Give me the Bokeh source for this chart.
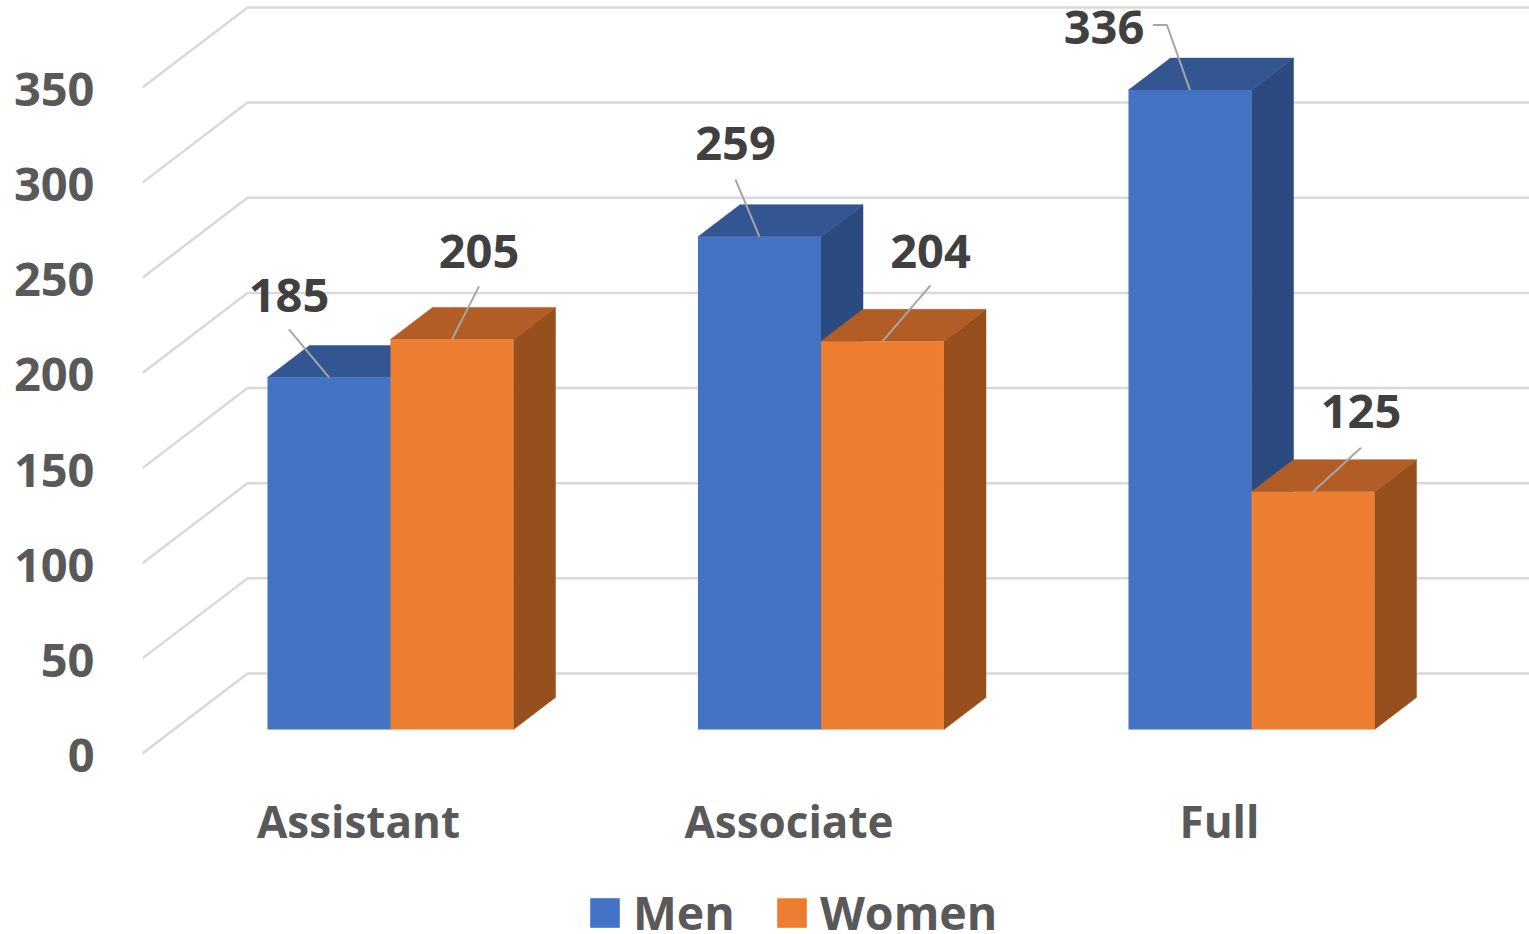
from bokeh.plotting import figure
from bokeh.models import (Range1d, LinearAxis, FixedTicker, Legend, LegendItem,
                          ColumnDataSource)
from bokeh.core.properties import value
from bokeh.embed import file_html
from bokeh.resources import INLINE

categories = ["Assistant", "Associate", "Full"]
men = [185, 259, 336]
women = [205, 204, 125]
y_ticks = [0, 50, 100, 150, 200, 250, 300, 350]

FONT = "Open Sans"
X_UNIT = 430.5      # px per category
Y_UNIT = 1.903      # px per value unit
BAR_W = 123 / X_UNIT
BAR_SHIFT = 32 / X_UNIT
DEPTH_X = 42 / X_UNIT
DEPTH_Y = 32 / Y_UNIT
WALL_X = 105 / X_UNIT
WALL_Y = 80 / Y_UNIT
FLOOR_X = -0.5017
RIGHT_X = 2.7201
Y_TOP = 395.7
Y_BOTTOM = -95.1

# pixel offsets of the data labels from the top-centre of each bar
men_text_dx, men_text_dy = [-40, -24, -86], [-82, -93, -63]
women_text_dx, women_text_dy = [27, 48, 48], [-88, -90, -80]
men_lead_dx, men_lead_dy = [-40, -24, -23], [-48, -57, -65]
women_lead_dx, women_lead_dy = [27, 48, 48], [-53, -56, -44]

p = figure(width=1529, height=934, output_backend="svg", toolbar_location=None,
           x_range=Range1d(FLOOR_X, RIGHT_X), y_range=Range1d(Y_BOTTOM, Y_TOP),
           min_border_left=142, min_border_right=0, min_border_top=0, min_border_bottom=0,
           x_axis_location=None, y_axis_location=None,
           outline_line_color=None, border_fill_color="white")
p.grid.visible = False
p.extra_y_ranges = {"bars": Range1d(Y_BOTTOM - 24 / Y_UNIT, Y_TOP - 24 / Y_UNIT),
                    "axis": Range1d(Y_BOTTOM + 2 / Y_UNIT, Y_TOP + 2 / Y_UNIT)}

# value axis
yaxis = LinearAxis(ticker=FixedTicker(ticks=y_ticks), y_range_name="axis")
yaxis.axis_line_color = None
yaxis.major_tick_line_color = None
yaxis.minor_tick_line_color = None
yaxis.major_label_text_font = FONT
yaxis.major_label_text_font_style = "bold"
yaxis.major_label_text_font_size = "47px"
yaxis.major_label_text_color = "#595959"
yaxis.major_label_standoff = 42
p.add_layout(yaxis, "left")

# wall gridlines
p.multi_line(xs=[[FLOOR_X, FLOOR_X + WALL_X, RIGHT_X] for _ in y_ticks],
             ys=[[v, v + WALL_Y, v + WALL_Y] for v in y_ticks],
             line_color="#d9d9d9", line_width=2.5)

# category labels
p.text(x=list(range(len(categories))), y=[0] * len(categories), text=categories,
       y_offset=67, text_align="center", text_baseline="middle", text_color="#595959",
       text_font=value(FONT), text_font_style="bold", text_font_size="44px")


def series(vals, shift, front, top, side):
    lefts = [i + shift for i in range(len(vals))]
    rights = [l + BAR_W for l in lefts]
    p.patches(xs=[[r, r + DEPTH_X, r + DEPTH_X, r] for r in rights],
              ys=[[0, DEPTH_Y, v + DEPTH_Y, v] for v in vals],
              fill_color=side, line_color=side, line_width=0.5, y_range_name="bars")
    p.patches(xs=[[l, l + DEPTH_X, r + DEPTH_X, r] for l, r in zip(lefts, rights)],
              ys=[[v, v + DEPTH_Y, v + DEPTH_Y, v] for v in vals],
              fill_color=top, line_color=top, line_width=0.5, y_range_name="bars")
    return p.quad(left=lefts, right=rights, bottom=[0] * len(vals), top=vals,
                  fill_color=front, line_color=None, y_range_name="bars")


r_men = series(men, BAR_SHIFT - BAR_W, "#4472C4", "#335693", "#2A4A80")
r_women = series(women, BAR_SHIFT, "#ED7D31", "#B25D25", "#97501D")


def labels(vals, shift, tdx, tdy, ldx, ldy, is_men):
    centers = [i + shift + BAR_W / 2 for i in range(len(vals))]
    xs, ys = [], []
    for i, (c, v) in enumerate(zip(centers, vals)):
        ex, ey = c + ldx[i] / X_UNIT, v - ldy[i] / Y_UNIT
        x, y = [c, ex], [v, ey]
        if is_men and i == 2:
            x.append(ex - 14 / X_UNIT)
            y.append(ey)
        xs.append(x)
        ys.append(y)
    p.multi_line(xs=xs, ys=ys, line_color="#a6a6a6", line_width=2, y_range_name="bars")
    src = ColumnDataSource(dict(x=centers, y=vals, t=[str(v) for v in vals], dx=tdx, dy=tdy))
    p.text(x="x", y="y", text="t", x_offset="dx", y_offset="dy", source=src,
           text_align="center", text_baseline="middle", text_color="#404040",
           text_font=value(FONT), text_font_style="bold", text_font_size="47px",
           y_range_name="bars")


labels(men, BAR_SHIFT - BAR_W, men_text_dx, men_text_dy, men_lead_dx, men_lead_dy, True)
labels(women, BAR_SHIFT, women_text_dx, women_text_dy, women_lead_dx, women_lead_dy, False)

legend = Legend(items=[LegendItem(label="Men", renderers=[r_men]),
                       LegendItem(label="Women", renderers=[r_women])],
                orientation="horizontal", location=(444, -10),
                glyph_width=37, glyph_height=37, label_standoff=10, spacing=38,
                margin=0, padding=0, border_line_color=None, background_fill_alpha=0,
                label_text_font=FONT, label_text_font_style="bold",
                label_text_font_size="46.5px", label_text_color="#595959")
p.add_layout(legend)

open("out.html", "w").write(file_html(p, INLINE))
